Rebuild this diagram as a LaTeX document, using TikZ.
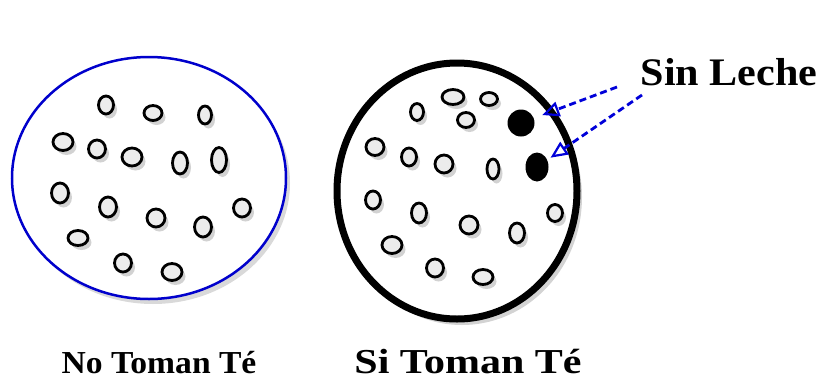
\documentclass[tikz,border=0pt]{standalone}
\usepackage{fontspec}
\setmainfont{Liberation Serif}
\usetikzlibrary{shapes.geometric,shadows,arrows.meta}

\tikzset{
    grano/.style={ellipse, draw=black, line width=2.8pt, fill=gray!15, inner sep=0pt,
        drop shadow={shadow xshift=3.5pt, shadow yshift=-4.5pt, opacity=0.35, fill=gray}},
    mancha/.style={ellipse, fill=black, inner sep=0pt},
    flecha/.style={draw=blue!85!black, line width=2.8pt, dash pattern=on 7pt off 4pt,
        -{Triangle[open, length=17pt, width=15pt, line width=2.2pt]}},
    rotulo/.style={font=\bfseries, anchor=base}
}

\begin{document}
\begin{tikzpicture}[x=1pt,y=-1pt]

\useasboundingbox (0,0) rectangle (823,381);

% No toman te
\node[ellipse, draw=blue!80!black, line width=2.5pt, fill=white,
    minimum width=274pt, minimum height=242pt, inner sep=0pt,
    drop shadow={shadow xshift=4pt, shadow yshift=-5pt, opacity=0.3, fill=gray}]
    (grupoNo) at (149,178) {};

\foreach \x/\y/\w/\h [count=\i] in
    {106/105/15/18, 153/113/18/15, 205/115/13/18,
     63/142/20/17, 97/149/17/18, 132/157/20/18, 180/163/15/22, 219/160/15/25,
     60/193/17/20, 108/207/17/20, 156/218/18/18, 203/227/17/20, 242/208/17/18,
     78/238/20/15, 123/263/17/18, 172/272/20/17}
{
    \node[grano, minimum width=\w pt, minimum height=\h pt] (no\i) at (\x,\y) {};
}

\node[rotulo, xscale=1.05] (tituloNo) at (159,373)
{\fontsize{32}{34}\selectfont No Toman Té};

% Si toman te
\node[ellipse, draw=black, line width=7pt, fill=white,
    minimum width=240pt, minimum height=256pt, inner sep=0pt,
    drop shadow={shadow xshift=5pt, shadow yshift=-6pt, opacity=0.35, fill=gray}]
    (grupoSi) at (457,191) {};

\foreach \x/\y/\w/\h [count=\i] in
    {453/97/22/15, 489/99/17/13, 417/112/13/17, 466/120/17/15,
     375/147/18/17, 409/157/15/18, 444/164/18/18, 493/169/12/20,
     373/200/15/18, 419/213/15/20, 469/225/18/18, 517/233/15/20, 555/213/15/17,
     392/245/20/17, 435/268/17/18, 483/277/20/15}
{
    \node[grano, minimum width=\w pt, minimum height=\h pt] (si\i) at (\x,\y) {};
}

\node[mancha, minimum width=27pt, minimum height=27pt] (leche1) at (521,123) {};
\node[mancha, minimum width=23pt, minimum height=29pt] (leche2) at (537,167) {};

\node[rotulo, xscale=1.2] (tituloSi) at (468,373)
{\fontsize{35}{37}\selectfont Si Toman Té};

% Sin leche
\node[rotulo, xscale=1.08] (sinLeche) at (729,85)
{\fontsize{39}{41}\selectfont Sin Leche};

\coordinate (desde1) at (617,87);
\coordinate (desde2) at (642,95);

\draw[flecha, shorten >=9pt] (desde1) -- (leche1);
\draw[flecha, shorten >=4pt] (desde2) -- (leche2);

\end{tikzpicture}
\end{document}
